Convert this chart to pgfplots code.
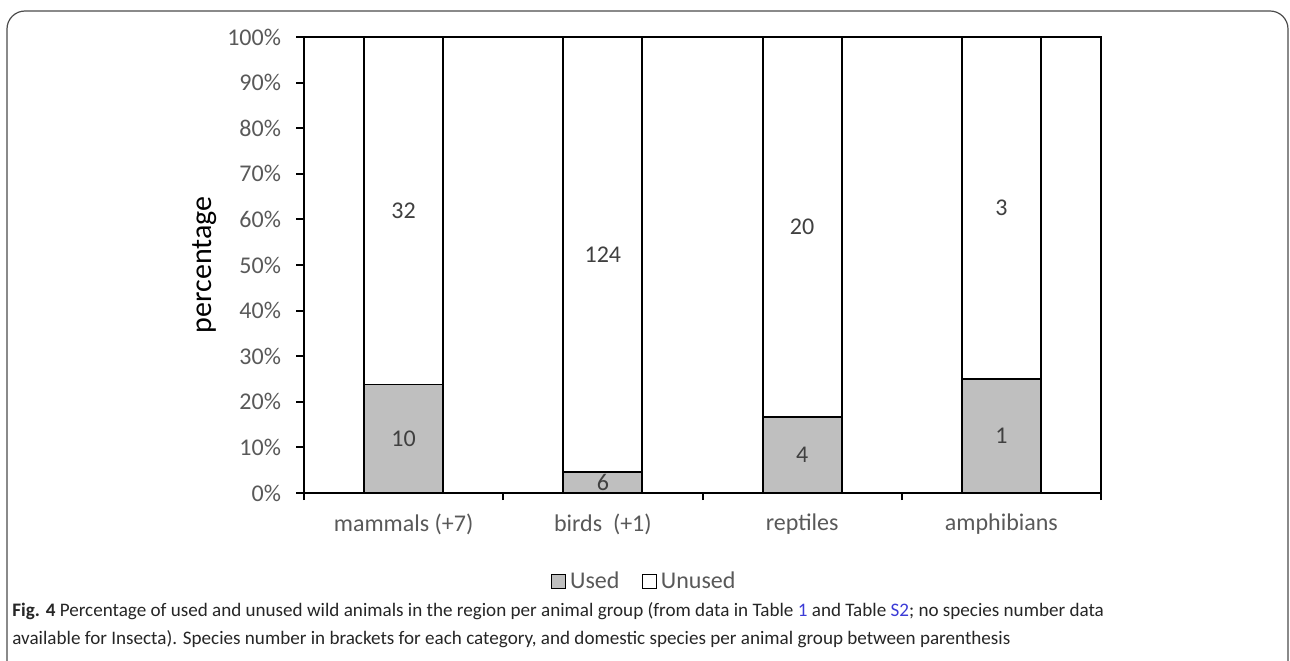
\documentclass[border=0pt]{standalone}
\usepackage{pgfplots}
\pgfplotsset{compat=1.18}
\usepackage{fontspec}
\setmainfont{Carlito}
\definecolor{txt}{HTML}{595959}
\definecolor{usedgray}{HTML}{BFBFBF}
\definecolor{linkblue}{HTML}{3B3BD6}
\begin{document}
\begin{tikzpicture}[x=0.5pt,y=0.5pt]
\useasboundingbox (0,0) rectangle (1290,660);
\clip (0,0) rectangle (1290,660);
\draw[line width=0.6pt, color=black!70, rounded corners=9pt] (7,-20) -- (7,649) -- (1288,649) -- (1288,-20);
\begin{axis}[
  at={(152pt,83.5pt)}, anchor=south west,
  scale only axis, width=398.5pt, height=228pt,
  xmin=-0.5, xmax=3.5, ymin=0, ymax=100,
  ybar stacked, bar width=39.5pt,
  axis line style={line width=1pt, black},
  tick style={line width=1pt, black},
  tick align=outside, tick pos=left,
  major tick length=4pt, minor tick length=3.5pt,
  xtick={0,1,2,3},
  xticklabels={mammals (+7), birds\ \ (+1), reptiles, amphibians},
  major x tick style={draw=none},
  minor xtick={-0.5,0.5,1.5,2.5,3.5},
  ytick={0,10,...,100},
  yticklabels={0\%,10\%,20\%,30\%,40\%,50\%,60\%,70\%,80\%,90\%,100\%},
  ticklabel style={font=\fontsize{12}{14}\selectfont, text=txt},
  yticklabel style={xshift=-4pt},
  xticklabel style={yshift=-3pt},
  ylabel={percentage},
  every axis y label/.style={at={(axis description cs:0,0.5)}, xshift=-49.5pt, rotate=90, anchor=center, font=\fontsize{15}{18}\selectfont},
  legend style={at={(0.428,-0.194)}, anchor=center, draw=none, legend columns=2,
    font=\fontsize{12}{14}\selectfont, text=txt,
    /tikz/every even column/.append style={column sep=9pt}},
  legend image code/.code={\draw[#1, line width=0.7pt] (0pt,-3.5pt) rectangle (7pt,3.5pt);},
]
\addplot[fill=usedgray, draw=black, line width=0.9pt] coordinates {(0,23.81) (1,4.62) (2,16.67) (3,25.0)};
\addlegendentry{Used}
\addplot[fill=white, draw=black, line width=0.9pt] coordinates {(0,76.19) (1,95.38) (2,83.33) (3,75.0)};
\addlegendentry{Unused}
\end{axis}
\begin{axis}[
  at={(152pt,83.5pt)}, anchor=south west,
  scale only axis, width=398.5pt, height=228pt,
  xmin=-0.5, xmax=3.5, ymin=0, ymax=100,
  hide axis, clip=false,
]
\addplot[draw=none, mark=none, nodes near coords, point meta=explicit symbolic,
  every node near coord/.append style={anchor=center, font=\fontsize{12}{14}\selectfont, text=black!75}]
  table[meta=label] {
  x y label
  0 11.90 10
  1 2.31 6
  2 8.33 4
  3 12.50 1
  0 61.90 32
  1 52.31 124
  2 58.33 20
  3 62.50 3
  };
\end{axis}
\node[anchor=north west, inner sep=0pt, align=left, font=\fontsize{9.55}{12}\selectfont, text=black!85] at (12,58)
 {\textbf{Fig. 4} Percentage of used and unused wild animals in the region per animal group (from data in Table \textcolor{linkblue}{1} and Table \textcolor{linkblue}{S2}; no species number data\\[2pt]
 available for Insecta). Species number in brackets for each category, and domestic species per animal group between parenthesis};
\end{tikzpicture}
\end{document}
